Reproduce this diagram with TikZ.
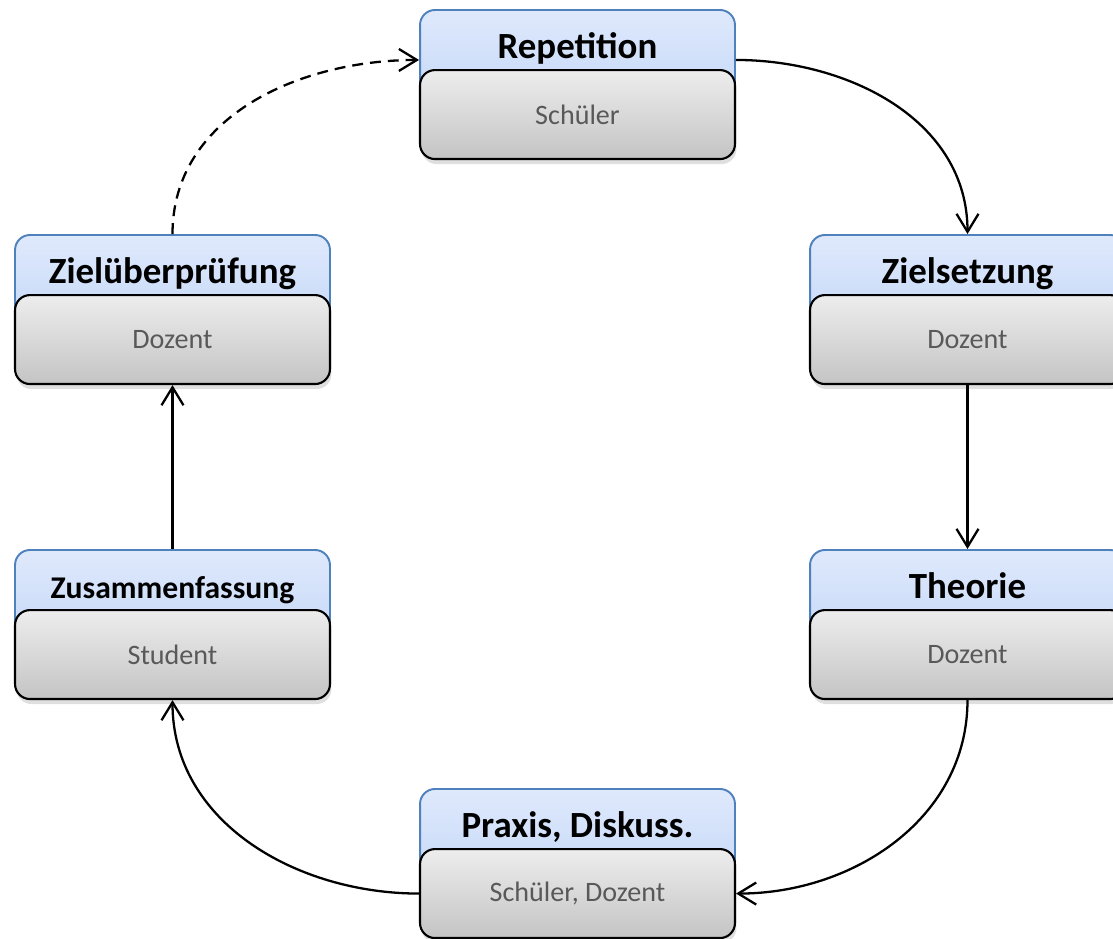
\documentclass[tikz,border=0pt]{standalone}
\usepackage{fontspec}
\setmainfont{Carlito}
\usepackage{xcolor}
\usepackage{tikz}
\usetikzlibrary{arrows}
\usetikzlibrary{arrows.meta}
\usetikzlibrary{positioning, shadows}
\definecolor{headtop}{HTML}{DFE9FC}
\definecolor{headbottom}{HTML}{C3D7F7}
\definecolor{headline}{HTML}{4F81BD}
\definecolor{bodytop}{HTML}{EDEDED}
\definecolor{bodybottom}{HTML}{C4C4C4}
\definecolor{bodytext}{HTML}{595959}
\tikzset{
phase head/.style = { rectangle, draw = headline, line width = 1.1pt, top color = headtop, bottom color = headbottom, minimum width = 6.3cm, inner sep = 0pt, text height = 0.98cm, text depth = 1.02cm, rounded corners = 0.3cm, anchor = north, font = \fontsize{21}{24}\selectfont\bfseries },
phase body/.style = { rectangle, draw = black, line width = 1.2pt, top color = bodytop, bottom color = bodybottom, minimum width = 6.3cm, minimum height = 1.78cm, inner sep = 0pt, rounded corners = 0.3cm, anchor = north, text = bodytext, font = \fontsize{16}{19}\selectfont, drop shadow = {shadow xshift = 0.3mm, shadow yshift = -1mm, opacity = 0.25} },
flow/.style = { line width = 1.3pt, -{Straight Barb[length = 3.6mm, width = 4.4mm]} },
}
\tikzset{
pics/phase/.style args={#1, #2}{
        code = {
        \node[phase head] (-head) at (0, 0) {#1};
        \node[phase body] (-body) at (0, 60) {#2};
        }
    }
}

\begin{document}
\begin{tikzpicture}[x = 0.02cm, y = -0.02cm]
    \useasboundingbox (0, 0) rectangle (1113, 938);
    \pic (rep) at (577.5, 9) {phase = {Repetition, Schüler}};
    \pic (goal) at (967.5, 234) {phase = {Zielsetzung, Dozent}};
    \pic (theo) at (967.5, 549) {phase = {Theorie, Dozent}};
    \pic (prax) at (577.5, 788) {phase = {{Praxis, Diskuss.}, {Schüler, Dozent}}};
    \pic (sum) at (172.5, 549) {phase = {{\fontsize{18}{20}\selectfont Zusammenfassung}, Student}};
    \pic (check) at (172.5, 234) {phase = {Zielüberprüfung, Dozent}};
    % the cycle
    \draw[flow] (rep-head.east) to[out = 0, in = 90] (goal-head.north);
    \draw[flow] (goal-body.south) -- (theo-head.north);
    \draw[flow] (theo-body.south) to[out = -90, in = 0] (prax-body.east);
    \draw[flow] (prax-body.west) to[out = 180, in = -90] (sum-body.south);
    \draw[flow] (sum-head.north) -- (check-body.south);
    \draw[flow, dash pattern = on 6.2pt off 4pt] (check-head.north) to[out = 90, in = 180] (rep-head.west);
  \end{tikzpicture}
\end{document}
